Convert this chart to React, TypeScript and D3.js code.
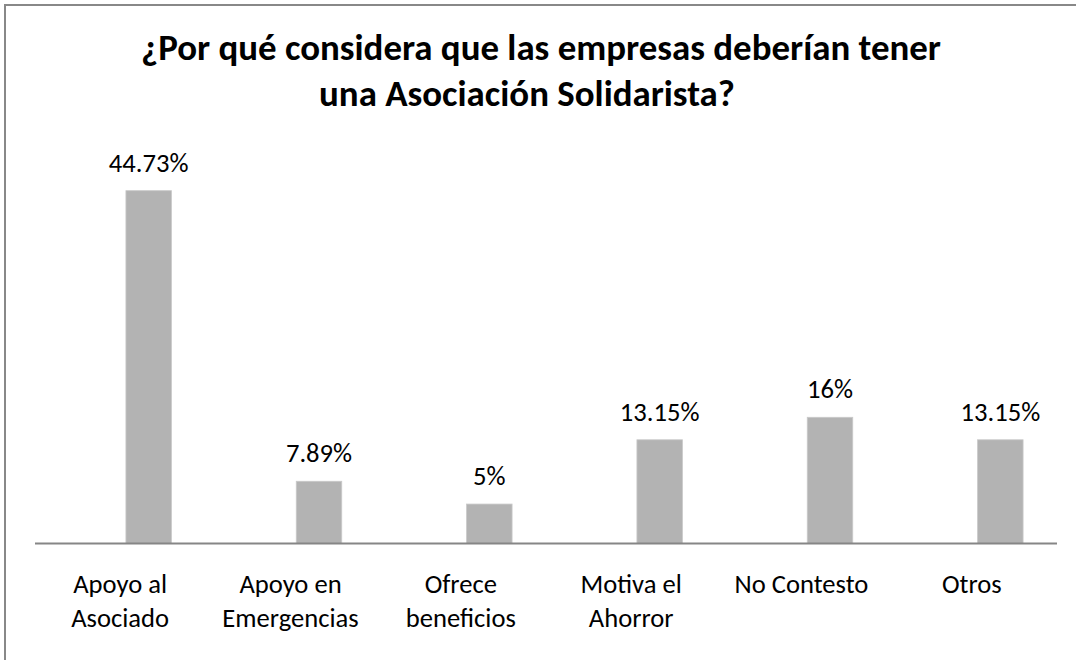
import React from "react";
import * as d3 from "d3";

const categories: string[][] = [
  ["Apoyo al", "Asociado"],
  ["Apoyo en", "Emergencias"],
  ["Ofrece", "beneficios"],
  ["Motiva el", "Ahorror"],
  ["No Contesto"],
  ["Otros"],
];
const values: number[] = [44.73, 7.89, 5, 13.15, 16, 13.15];
const valueLabels: string[] = ["44.73%", "7.89%", "5%", "13.15%", "16%", "13.15%"];
const titleLines: string[] = [
  "¿Por qué considera que las empresas deberían tener",
  "una Asociación Solidarista?",
];

const W = 1076;
const H = 660;
const FONT = "Carlito, Calibri, Lato, 'Liberation Sans', sans-serif";

export default function App() {
  const x = d3
    .scaleBand<number>()
    .domain(d3.range(categories.length))
    .range([35, 1057])
    .paddingInner(0)
    .paddingOuter(0);
  const y = d3.scaleLinear().domain([0, 50]).range([543.5, 149.1]);
  const step = x.step();
  const barW = 45.5;
  const offset = 28.5;

  return (
    <svg
      width={W}
      height={H}
      style={{ position: "absolute", left: 0, top: 0, background: "#fff" }}
      fontFamily={FONT}
    >
      <rect x={0} y={0} width={W} height={H} fill="#fff" />
      <line x1={5} y1={4} x2={5} y2={H} stroke="#888" strokeWidth={2} />
      <line x1={4} y1={5} x2={W} y2={5} stroke="#888" strokeWidth={2} />

      <text x={541} y={60} textAnchor="middle" fontWeight="bold" fontSize={36.9} fill="#000">
        {titleLines[0]}
      </text>
      <text x={527} y={106} textAnchor="middle" fontWeight="bold" fontSize={36.9} fill="#000">
        {titleLines[1]}
      </text>

      {values.map((v, i) => {
        const cx = (x(i) as number) + step / 2 + offset;
        return (
          <g key={i}>
            <rect
              x={cx - barW / 2}
              y={y(v)}
              width={barW}
              height={y(0) - y(v)}
              fill="#b3b3b3"
              stroke="#c9c9c9"
              strokeWidth={0.8}
            />
            <text x={cx} y={y(v) - 19} textAnchor="middle" fontSize={26.6} fill="#000">
              {valueLabels[i]}
            </text>
          </g>
        );
      })}

      <line x1={35} y1={543.5} x2={1057} y2={543.5} stroke="#868686" strokeWidth={2} />

      {categories.map((lines, i) => {
        const cx = (x(i) as number) + step / 2;
        return (
          <text key={i} textAnchor="middle" fontSize={26.6} fill="#000">
            {lines.map((l, j) => (
              <tspan key={j} x={cx} y={593 + j * 34}>
                {l}
              </tspan>
            ))}
          </text>
        );
      })}
    </svg>
  );
}
